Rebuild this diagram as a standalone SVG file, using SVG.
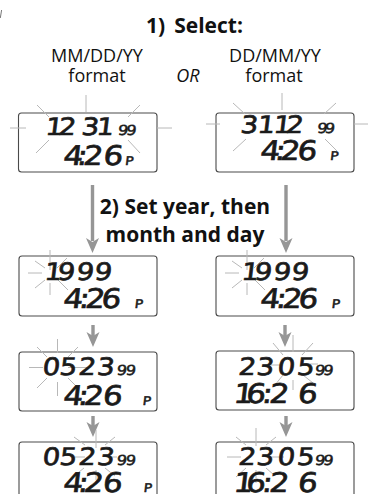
<svg xmlns="http://www.w3.org/2000/svg" width="368" height="494" viewBox="0 0 368 494">
<style>
.lbl{font-family:"Open Sans","Liberation Sans",sans-serif;font-size:18px;fill:#111;text-anchor:middle}
.ttl{font-family:"Open Sans","Liberation Sans",sans-serif;font-size:21px;font-weight:700;fill:#111;text-anchor:middle}
.box{fill:#fff;stroke:#4a4a4a;stroke-width:1.1}
.ray{stroke:#b8b8b8;stroke-width:1;fill:none}
.lcd{font-family:"DejaVu Sans",sans-serif;font-weight:400;fill:#1a1a1a;stroke:#1a1a1a;stroke-width:0.7;text-anchor:middle}
.big{font-size:24px}
.big2{font-size:27px}
.sm{font-size:14px;stroke-width:0.5}
.p{font-size:12px;stroke-width:0.5}
.arr{fill:#969696}
</style>
<defs>
<path id="headBig" d="M-6.5,-15 L0,-11 L6.5,-15 L0,0 Z"/>
</defs>

<line x1="0.3" y1="18" x2="1.6" y2="10" stroke="#555" stroke-width="0.8"/>

<g id="labels">
<text class="ttl" x="194.5" y="33">1)<tspan dx="9">Select:</tspan></text>
<text class="lbl" x="97" y="61.5">MM/DD/YY</text>
<text class="lbl" x="97" y="81.5">format</text>
<text class="lbl" x="188" y="81.5" font-style="italic">OR</text>
<text class="lbl" x="275" y="61.5">DD/MM/YY</text>
<text class="lbl" x="274" y="81.5">format</text>
<text class="ttl" x="185" y="214">2) Set year, then</text>
<text class="ttl" x="185" y="242">month and day</text>
</g>

<g id="connectors">
<g class="arr">
<rect x="90.8" y="185" width="3.4" height="56"/>
<use href="#headBig" x="92.5" y="253"/>
<rect x="284.3" y="185" width="3.4" height="56"/>
<use href="#headBig" x="286" y="253"/>
<rect x="91.3" y="325" width="3.4" height="12"/>
<use href="#headBig" x="93" y="347"/>
<rect x="283.3" y="325" width="3.4" height="12"/>
<use href="#headBig" x="285" y="347"/>
<rect x="91.3" y="416" width="3.4" height="11"/>
<use href="#headBig" x="93" y="437"/>
<rect x="284.3" y="416" width="3.4" height="11"/>
<use href="#headBig" x="286" y="437"/>
</g>
</g>

<g id="lcd-mmdd-select">
<rect class="box" x="18.5" y="113" width="138.5" height="59" rx="3"/>
<path class="ray" d="M86,95V112 M10,128H26 M157,128H172 M37,105L49,117 M140,105L128,117 M36,153L49,140 M140,153L128,140"/>
<text class="lcd big" transform="matrix(1.15,0,-0.12,1,16.2,0)" x="46.52 57.83 77.83 90.87" y="135">1231</text>
<text class="lcd sm" transform="matrix(1.15,0,-0.12,1,16.2,0)" x="106.52 113.91" y="135">99</text>
<text class="lcd big2" transform="matrix(1.15,0,-0.12,1,19.8,0)" x="63.04 70.87 80.43 97.83" y="165">4:26</text>
<text class="lcd p" transform="matrix(1.15,0,-0.12,1,19.8,0)" x="112.17" y="165">P</text>
</g>

<g id="lcd-ddmm-select">
<rect class="box" x="216" y="113" width="138" height="59" rx="3"/>
<path class="ray" d="M282,93V110 M206,124H220 M354,124H368 M233,103L245,114 M336,103L324,114 M233,151L246,139 M337,151L325,139"/>
<text class="lcd big" transform="matrix(1.15,0,-0.12,1,15.96,0)" x="216.09 230.87 244.78 255.65" y="133">3112</text>
<text class="lcd sm" transform="matrix(1.15,0,-0.12,1,15.96,0)" x="280 286.52" y="133">99</text>
<text class="lcd big2" transform="matrix(1.15,0,-0.12,1,19.2,0)" x="234.35 243.04 251.74 266.52" y="160">4:26</text>
<text class="lcd p" transform="matrix(1.15,0,-0.12,1,19.2,0)" x="290.43" y="160">P</text>
</g>

<g id="lcd-mmdd-year">
<rect class="box" x="19" y="256" width="138" height="60" rx="3"/>
<path class="ray" d="M50,250V270 M50,283V295 M28,273H42 M35,261L45,268 M67,258L57,268 M35,288L45,280 M68,290L58,280"/>
<text class="lcd big" transform="matrix(1.15,0,-0.12,1,33.6,0)" x="45.65 56.96 73.48 89.13" y="280">1999</text>
<text class="lcd big2" transform="matrix(1.15,0,-0.12,1,36.96,0)" x="63.04 72.61 82.17 96.09" y="308">4:26</text>
<text class="lcd p" transform="matrix(1.15,0,-0.12,1,36.96,0)" x="120.43" y="308">P</text>
</g>

<g id="lcd-ddmm-year">
<rect class="box" x="216" y="256" width="138" height="60" rx="3"/>
<path class="ray" d="M247,250V270 M247,283V295 M225,273H239 M232,261L242,268 M264,258L254,268 M232,288L242,280 M265,290L255,280"/>
<text class="lcd big" transform="matrix(1.15,0,-0.12,1,33.6,0)" x="216.96 228.26 244.78 260.43" y="280">1999</text>
<text class="lcd big2" transform="matrix(1.15,0,-0.12,1,36.96,0)" x="234.35 243.91 253.48 267.39" y="308">4:26</text>
<text class="lcd p" transform="matrix(1.15,0,-0.12,1,36.96,0)" x="291.74" y="308">P</text>
</g>

<g id="lcd-mmdd-month">
<rect class="box" x="19" y="352" width="138" height="59" rx="3"/>
<path class="ray" d="M57.5,339V353 M57.5,382V396 M29,367.5H43 M68,367.5H87 M37,347L47,357 M78,347L68,357 M37,388L47,378 M78,388L68,378"/>
<text class="lcd big" transform="matrix(1.15,0,-0.12,1,45,0)" x="43.91 58.70 75.22 91.30" y="375">0523</text>
<text class="lcd sm" transform="matrix(1.15,0,-0.12,1,45,0)" x="105.65 113.48" y="375">99</text>
<text class="lcd big2" transform="matrix(1.15,0,-0.12,1,48.6,0)" x="63.04 71.74 80.87 97.39" y="405">4:26</text>
<text class="lcd p" transform="matrix(1.15,0,-0.12,1,48.6,0)" x="127.39" y="405">P</text>
</g>

<g id="lcd-ddmm-month">
<rect class="box" x="216" y="351" width="138" height="59" rx="3"/>
<path class="ray" d="M293,335V352 M293,380V390 M266,365H281 M303,364H318 M273,343L283,355 M313,343L302,355 M275,385L283,375 M313,383L303,375"/>
<text class="lcd big" transform="matrix(1.15,0,-0.12,1,45,0)" x="214.35 230 248.26 265.22" y="375">2305</text>
<text class="lcd sm" transform="matrix(1.15,0,-0.12,1,45,0)" x="277.83 285.22" y="375">99</text>
<text class="lcd big2" transform="matrix(1.15,0,-0.12,1,48.36,0)" x="210.87 221.74 231.74 242.17 266.96" y="403">16:26</text>
</g>

<g id="lcd-mmdd-day">
<rect class="box" x="19" y="442" width="138" height="60" rx="3"/>
<path class="ray" d="M96,430V448 M96,470V480 M75,457H85 M108,457H117 M74,437L85,445 M115,437L105,445 M74,476L84,468 M115,476L105,468"/>
<text class="lcd big" transform="matrix(1.15,0,-0.12,1,55.8,0)" x="43.91 58.70 75.22 91.30" y="465">0523</text>
<text class="lcd sm" transform="matrix(1.15,0,-0.12,1,55.8,0)" x="105.65 113.48" y="465">99</text>
<text class="lcd big2" transform="matrix(1.15,0,-0.12,1,59.04,0)" x="63.04 71.74 80.87 97.39" y="492">4:26</text>
<text class="lcd p" transform="matrix(1.15,0,-0.12,1,59.04,0)" x="128.26" y="492">P</text>
</g>

<g id="lcd-ddmm-day">
<rect class="box" x="216" y="442" width="138" height="60" rx="3"/>
<path class="ray" d="M256,428V446 M256,470V483 M227,457H241 M269,457H284 M236,437L246,445 M276,437L266,445 M236,477L246,468 M274,475L266,468"/>
<text class="lcd big" transform="matrix(1.15,0,-0.12,1,55.8,0)" x="214.35 230 248.26 265.22" y="465">2305</text>
<text class="lcd sm" transform="matrix(1.15,0,-0.12,1,55.8,0)" x="277.83 285.22" y="465">99</text>
<text class="lcd big2" transform="matrix(1.15,0,-0.12,1,59.04,0)" x="210.87 221.74 231.74 242.17 266.96" y="492">16:26</text>
</g>
</svg>
